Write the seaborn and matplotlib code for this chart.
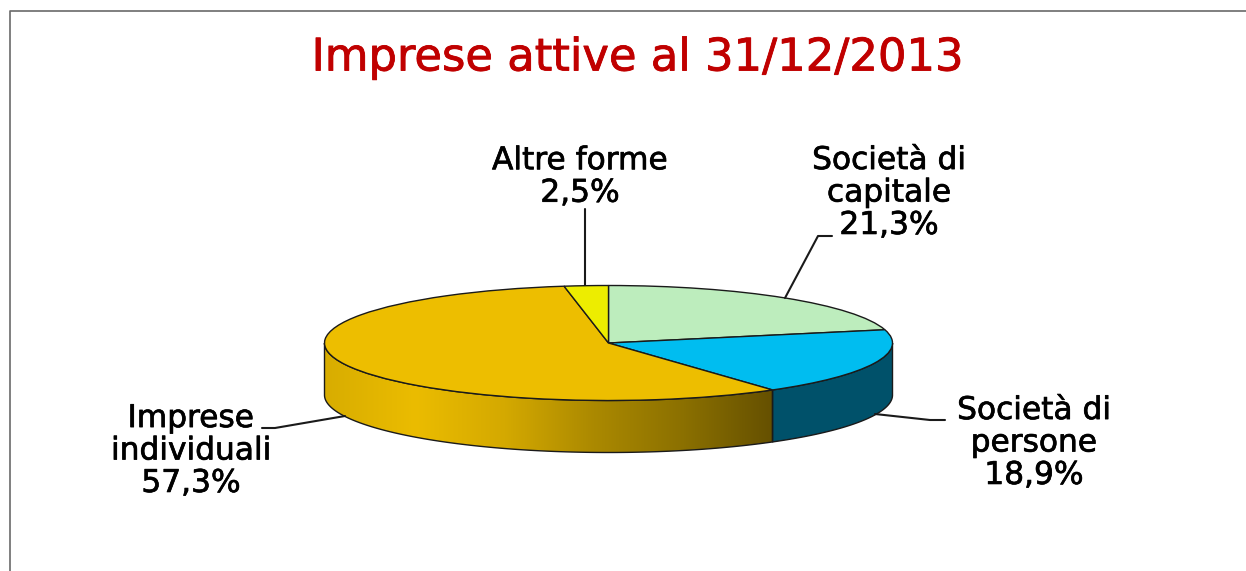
# -*- coding: utf-8 -*-
import numpy as np
import seaborn as sns
import matplotlib.pyplot as plt
import matplotlib.patheffects as pe
from matplotlib.patches import Polygon

# data
categories = ['Società di\ncapitale', 'Società di\npersone', 'Imprese\nindividuali', 'Altre forme']
values = [21.3, 18.9, 57.3, 2.5]
top_colors = ['#BDEDBD', '#00BDF0', '#EDBE00', '#EDED00']
wall_colors = ['#5E9A70', '#00516A', None, '#9A9A00']
title = 'Imprese attive al 31/12/2013'

# layout, in pixels of the 1246x571 picture
W, H = 1246, 571
cx, cy = 608.5, 343
rx, ry = 284, 57.5
depth = 52 / ry
label_pos = [(889, 193), (1034, 443), (191, 451), (580, 177)]
leaders = [
    [(785, 298), (818, 236), (832, 236)],
    [(875, 414), (930, 420), (945, 420)],
    [(345, 416), (275, 428), (262, 428)],
    [(585, 209), (585, 285)],
]

sns.set_theme(style='white')
plt.rcParams['font.family'] = ['DejaVu Sans']

fig = plt.figure(figsize=(W / 100, H / 100), dpi=100, facecolor='white')

# pie axes: unit circle squashed into the ellipse by the axis limits
ax = fig.add_axes([0, 0, 1, 1])
edge = '#1a1a1a'
wedges, _ = ax.pie(values, colors=top_colors, startangle=90, counterclock=False,
                   radius=1, wedgeprops={'edgecolor': edge, 'linewidth': 1.0, 'zorder': 3})
ax.set_aspect('auto')
ax.axis('off')

# side wall, only the front half (-180..0 deg) can be seen
gradient = sns.blend_palette(['#D8AD00', '#EBBC00', '#D4A900', '#AB8900', '#8B7000', '#655000'],
                             n_colors=256, as_cmap=True)
for w, wall in zip(wedges, wall_colors):
    lo, hi = max(w.theta1, -180), min(w.theta2, 0)
    if lo >= hi:
        continue
    t = np.radians(np.linspace(lo, hi, 200))
    x, y = np.cos(t), np.sin(t)
    outline = np.column_stack([np.r_[x, x[::-1]], np.r_[y, y[::-1] - depth]])
    if wall is None:
        img = ax.imshow(np.linspace(0, 1, 256)[None, :], cmap=gradient, aspect='auto',
                        extent=(x.min(), x.max(), -1 - depth, 0), zorder=1)
        img.set_clip_path(Polygon(outline, transform=ax.transData))
        ax.add_patch(Polygon(outline, fill=False, edgecolor=edge, linewidth=1.0, zorder=2))
    else:
        ax.add_patch(Polygon(outline, facecolor=wall, edgecolor=edge, linewidth=1.0, zorder=2))
ax.set_xlim(-cx / rx, (W - cx) / rx)
ax.set_ylim((cy - H) / ry, cy / ry)

# overlay in pixel coordinates for the texts and leader lines
over = fig.add_axes([0, 0, 1, 1], facecolor='none')
over.set_xlim(0, W)
over.set_ylim(H, 0)
over.axis('off')

over.plot([10, 10, W], [H, 11, 11], color='#6a6a6a', lw=1.2, clip_on=False)

over.text(638, 58, title, color='#C00000', fontsize=32.3, ha='center', va='center',
          path_effects=[pe.withStroke(linewidth=0.6, foreground='#C00000')])

for name, val, pos, line in zip(categories, values, label_pos, leaders):
    txt = f'{name}\n{val:.1f}%'.replace('.', ',')
    over.text(pos[0], pos[1], txt, fontsize=22.5, color='black', ha='center', va='center',
              linespacing=1.15, path_effects=[pe.withStroke(linewidth=0.5, foreground='black')])
    xs, ys = zip(*line)
    over.plot(xs, ys, color='#1a1a1a', lw=1.5)

fig.savefig('out.png', dpi=100)
